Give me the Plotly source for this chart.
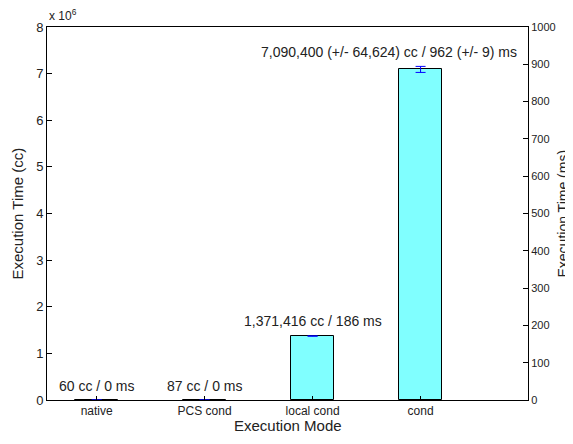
import plotly.graph_objects as go

categories = ["native", "PCS cond", "local cond", "cond"]
cycles = [60, 87, 1371416, 7090400]
cycles_err = [10, 10, 3000, 64624]
ms_values = [0, 0, 186, 962]
labels = ["60 cc / 0 ms", "87 cc / 0 ms", "1,371,416 cc / 186 ms",
          "7,090,400 (+/- 64,624) cc / 962 (+/- 9) ms"]
left_ticks = [0, 1, 2, 3, 4, 5, 6, 7, 8]
right_ticks = [0, 100, 200, 300, 400, 500, 600, 700, 800, 900, 1000]

xpos = [1, 2, 3, 4]
FONT = "Liberation Sans, Arial, sans-serif"

fig = go.Figure()
fig.add_trace(go.Bar(
    x=xpos, y=cycles, width=0.4,
    marker=dict(color="#80FFFF", line=dict(color="black", width=1)),
    error_y=dict(type="data", array=cycles_err, color="blue", thickness=1, width=5),
    showlegend=False, hoverinfo="skip",
))
fig.add_trace(go.Scatter(
    x=xpos, y=ms_values, yaxis="y2", mode="markers",
    marker=dict(opacity=0), showlegend=False, hoverinfo="skip",
))

ann = []
label_x = [1, 2, 3, 3.71]
label_shift = [4, 4, 5, 7]
for i, t in enumerate(labels):
    ann.append(dict(x=label_x[i], y=cycles[i], xref="x", yref="y",
                    text=t, showarrow=False, yanchor="bottom", yshift=label_shift[i],
                    font=dict(size=14, color="#222", family=FONT)))
ann.append(dict(x=0, y=1, xref="paper", yref="paper", text="x 10<sup>6</sup>",
                showarrow=False, xanchor="left", yanchor="bottom", yshift=2,
                font=dict(size=12, color="#222", family=FONT)))
ann.append(dict(x=0.5, y=0, xref="paper", yref="paper", text="Execution Mode",
                showarrow=False, xanchor="center", yanchor="middle", yshift=-25,
                font=dict(size=15, color="#222", family=FONT)))
ann.append(dict(x=0, y=0.5, xref="paper", yref="paper", text="Execution Time (cc)",
                showarrow=False, xanchor="center", yanchor="middle", xshift=-30,
                textangle=-90, font=dict(size=15, color="#222", family=FONT)))
ann.append(dict(x=1, y=0.5, xref="paper", yref="paper", text="Execution Time (ms)",
                showarrow=False, xanchor="center", yanchor="middle", xshift=34,
                textangle=-90, font=dict(size=14, color="#222", family=FONT)))

fig.update_layout(
    width=565, height=436,
    margin=dict(l=39, r=45, t=19, b=44),
    plot_bgcolor="white", paper_bgcolor="white",
    font=dict(family=FONT, size=12, color="#222"),
    bargap=0,
    xaxis=dict(range=[0.54, 4.995], tickvals=xpos, ticktext=categories,
               ticks="inside", ticklen=4, tickcolor="black", automargin=False,
               showline=True, linecolor="black", mirror=True, showgrid=False,
               zeroline=False, tickfont=dict(size=12)),
    yaxis=dict(range=[0, 8e6], tickvals=[v * 1e6 for v in left_ticks],
               ticktext=[str(v) for v in left_ticks], automargin=False,
               ticks="inside", ticklen=5, tickcolor="black",
               showline=True, linecolor="black", showgrid=False, zeroline=False,
               tickfont=dict(size=13)),
    yaxis2=dict(range=[0, 1000], tickvals=right_ticks, overlaying="y", side="right",
                ticks="inside", ticklen=5, tickcolor="black", automargin=False,
                showline=True, linecolor="black", showgrid=False, zeroline=False,
                tickfont=dict(size=11)),
    annotations=ann,
)
fig.write_html("out.html")
